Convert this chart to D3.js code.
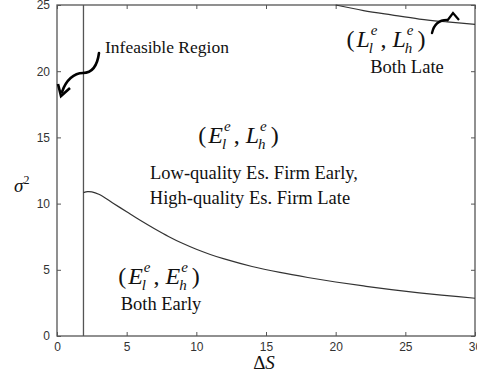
<!DOCTYPE html>
<html><head><meta charset="utf-8">
<script src="https://cdn.jsdelivr.net/npm/d3@7"></script>
<style>body{margin:0;background:#fff}svg{display:block}</style>
</head><body>
<script>
// ---- data ----
const xTicks = [0, 5, 10, 15, 20, 25, 30];
const yTicks = [0, 5, 10, 15, 20, 25];
const infeasibleX = 1.9;
const lowerX = [1.9, 2.2, 2.5, 3, 4, 5, 6, 7, 8, 9, 10, 11, 12, 14, 16, 18, 20, 22, 24, 26, 28, 30];
const lowerY = [10.83, 10.9, 10.88, 10.7, 10.05, 9.38, 8.72, 8.1, 7.52, 7.0, 6.55, 6.16, 5.82, 5.25, 4.8, 4.42, 4.08, 3.78, 3.5, 3.26, 3.05, 2.85];
const upperX = [20, 22, 24, 26, 28, 30];
const upperY = [25, 24.58, 24.25, 23.94, 23.72, 23.54];

const W = 477, H = 377;
const svg = d3.select("body").append("svg").attr("width", W).attr("height", H);
const x = d3.scaleLinear().domain([0, 30]).range([57, 475]);
const y = d3.scaleLinear().domain([0, 25]).range([336, 5]);
const axisCol = "#555";

// frame
svg.append("rect").attr("x", x(0)).attr("y", y(25)).attr("width", x(30) - x(0)).attr("height", y(0) - y(25))
  .attr("fill", "none").attr("stroke", axisCol).attr("stroke-width", 1.3);

function styleAxis(g) {
  g.select(".domain").remove();
  g.selectAll(".tick line").attr("stroke", axisCol).attr("stroke-width", 1);
  g.selectAll(".tick text").attr("fill", "#333").attr("font-family", "Liberation Sans, Arial, sans-serif").attr("font-size", 12);
}
svg.append("g").attr("transform", `translate(0,${y(0)})`)
  .call(d3.axisBottom(x).tickValues(xTicks).tickSize(-4).tickPadding(6)).call(styleAxis);
svg.append("g").attr("transform", `translate(${x(0)},0)`)
  .call(d3.axisLeft(y).tickValues(yTicks).tickSize(-4).tickPadding(7)).call(styleAxis);
svg.append("g").attr("transform", `translate(0,${y(25)})`)
  .call(d3.axisTop(x).tickValues(xTicks).tickSize(-4).tickFormat("")).call(styleAxis);
svg.append("g").attr("transform", `translate(${x(30)},0)`)
  .call(d3.axisRight(y).tickValues(yTicks).tickSize(-4).tickFormat("")).call(styleAxis);

// infeasible line
svg.append("line").attr("x1", x(infeasibleX)).attr("x2", x(infeasibleX)).attr("y1", y(0)).attr("y2", y(25))
  .attr("stroke", axisCol).attr("stroke-width", 1.3);

const line = d3.line().x(d => x(d[0])).y(d => y(d[1])).curve(d3.curveCatmullRom);
svg.append("path").datum(lowerX.map((v, i) => [v, lowerY[i]])).attr("d", line)
  .attr("fill", "none").attr("stroke", "#333").attr("stroke-width", 1.2);
svg.append("path").datum(upperX.map((v, i) => [v, upperY[i]])).attr("d", line)
  .attr("fill", "none").attr("stroke", "#333").attr("stroke-width", 1.2);

const serif = "Liberation Serif, Times New Roman, serif";
function txt(s, tx, ty, size, opts = {}) {
  return svg.append("text").attr("x", tx).attr("y", ty).attr("font-family", serif).attr("font-size", size)
    .attr("fill", "#111").attr("text-anchor", opts.anchor || "start").attr("font-style", opts.italic ? "italic" : "normal").text(s);
}
txt("Infeasible Region", 105, 53, 17.5);
txt("Low-quality Es. Firm Early,", 254, 179, 18.5, {anchor: "middle"});
txt("High-quality Es. Firm Late", 250, 204, 18.5, {anchor: "middle"});
txt("Both Early", 161, 310, 18.5, {anchor: "middle"});
txt("Both Late", 407, 73, 18.5, {anchor: "middle"});

// math label: (A_l^e , B_h^e)
function mathLabel(cx, base, A, B) {
  const g = svg.append("g");
  let cur = 0;
  function add(s, size, italic, dy, advance) {
    const t = g.append("text").attr("font-family", serif).attr("font-size", size).attr("fill", "#111")
      .attr("font-style", italic ? "italic" : "normal").attr("x", cur).attr("y", base + dy).text(s);
    const w = t.node().getComputedTextLength();
    if (advance) cur += w;
    return w;
  }
  const F = 24, S = 15;
  add("(", F, false, 0, true);
  cur += 2;
  add(A, F, true, 0, true);
  let x0 = cur + 1;
  cur = x0;
  let w1 = add("e", S, true, -12, false);
  cur = x0 - 2;
  let w2 = add("l", S, true, 6, false);
  cur = x0 + Math.max(w1, w2 - 2) + 3;
  add(",", F, false, 0, true);
  cur += 6;
  add(B, F, true, 0, true);
  x0 = cur + 1;
  cur = x0;
  w1 = add("e", S, true, -12, false);
  cur = x0 - 2;
  w2 = add("h", S, true, 6, false);
  cur = x0 + Math.max(w1, w2 - 2) + 4;
  add(")", F, false, 0, true);
  g.attr("transform", `translate(${cx - cur / 2},0)`);
}
mathLabel(238.5, 143, "E", "L");
mathLabel(159, 284, "E", "E");
mathLabel(386, 46.5, "L", "L");

// axis titles
const sig = svg.append("text").attr("x", 14).attr("y", 192).attr("font-family", serif).attr("font-size", 19).attr("fill", "#111");
sig.append("tspan").attr("font-style", "italic").text("σ");
sig.append("tspan").attr("font-size", 12).attr("dy", -8).text("2");
const ds = svg.append("text").attr("x", 264).attr("y", 369).attr("text-anchor", "middle").attr("font-family", serif).attr("font-size", 19).attr("fill", "#111");
ds.append("tspan").text("Δ");
ds.append("tspan").attr("font-style", "italic").text("S");

// arrows
const arrowCol = "#000";
svg.append("path").attr("d", "M99,53 C97,68 90,73 83,73 C74,73 66,80 62,92")
  .attr("fill", "none").attr("stroke", arrowCol).attr("stroke-width", 2.6).attr("stroke-linecap", "round");
svg.append("path").attr("d", "M58,84 L61,96 L70,88")
  .attr("fill", "none").attr("stroke", arrowCol).attr("stroke-width", 2.6).attr("stroke-linejoin", "miter");
svg.append("path").attr("d", "M432,33 C434,24 440,20 447,20")
  .attr("fill", "none").attr("stroke", arrowCol).attr("stroke-width", 2.4).attr("stroke-linecap", "round");
svg.append("path").attr("d", "M447,21 L453,13 L459,20")
  .attr("fill", "none").attr("stroke", arrowCol).attr("stroke-width", 2.2);
</script>
</body></html>
